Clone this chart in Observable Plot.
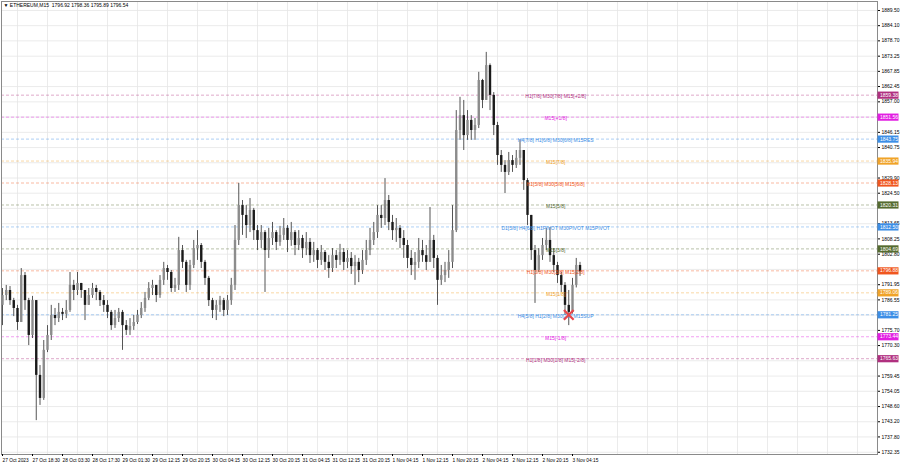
<!DOCTYPE html>
<html><head><meta charset="utf-8">
<script src="https://cdn.jsdelivr.net/npm/d3@7"></script>
<script src="https://cdn.jsdelivr.net/npm/@observablehq/plot@0.6"></script>
<style>html,body{margin:0;padding:0;background:#fff;} #chart svg{display:block}</style>
</head><body><div id="chart"></div>
<script>
const symbolTitle = "▼ ETHEREUM,M15  1796.92 1798.36 1795.89 1796.54";

// candles (bar index = position on MT4 time axis)
const open0 = 1784.6;
const close = [
1788.1,1789.9,1786.3,1783.5,1778.5,1795.2,1786.3,1773.9,1786.3,1759.7,
1751.5,1768.6,1773.9,1781.0,1779.9,1782.1,1781.4,1782.8,1791.7,1789.9,
1792.4,1789.9,1784.6,1788.1,1790.6,1789.2,1786.3,1784.6,1782.1,1777.4,
1779.9,1782.1,1777.4,1775.7,1777.1,1778.5,1781.0,1783.5,1787.1,1790.6,
1791.7,1788.1,1793.5,1797.7,1796.3,1790.6,1791.7,1804.1,1799.9,1791.7,
1798.8,1804.8,1805.9,1799.9,1794.2,1786.3,1782.8,1784.6,1786.3,1782.8,
1786.3,1791.7,1807.7,1820.1,1816.6,1813.0,1818.4,1811.2,1807.7,1810.5,
1804.1,1808.4,1810.5,1807.0,1809.5,1812.0,1807.7,1810.5,1805.9,1808.4,
1804.8,1807.0,1802.3,1804.1,1800.6,1803.4,1799.9,1797.7,1802.3,1800.6,
1803.4,1799.9,1801.3,1798.4,1799.9,1797.0,1800.6,1804.1,1807.7,1810.5,
1816.6,1815.5,1821.9,1814.1,1811.2,1812.0,1808.4,1805.9,1801.3,1798.8,
1799.9,1804.1,1802.3,1799.9,1807.7,1801.3,1793.5,1795.2,1797.0,1799.9,
1811.2,1846.8,1852.1,1845.0,1850.4,1846.8,1848.6,1864.6,1857.5,1869.9,
1859.3,1848.6,1837.9,1834.4,1831.9,1836.1,1834.4,1836.9,1839.7,1829.0,
1816.6,1804.1,1797.0,1802.3,1805.9,1807.7,1802.3,1798.8,1795.2,1791.7,
1784.6,1782.1,1791.7,1798.8,1796.54];
const high = [
1790.6,1791.7,1791.3,1787.1,1784.6,1797.7,1796.3,1787.1,1787.8,1786.3,
1763.2,1772.1,1777.4,1784.6,1783.5,1785.3,1783.5,1786.3,1796.3,1793.5,
1796.3,1792.4,1789.9,1790.6,1792.4,1791.7,1789.9,1788.1,1786.3,1782.8,
1782.8,1783.5,1782.8,1779.2,1779.9,1781.0,1782.8,1785.6,1789.2,1792.7,
1793.5,1791.7,1795.2,1799.9,1798.8,1797.0,1794.2,1808.8,1805.9,1800.6,
1800.6,1807.7,1811.2,1806.6,1800.6,1794.9,1787.1,1786.3,1787.8,1787.1,
1788.1,1794.2,1813.0,1828.0,1821.9,1820.1,1822.6,1819.1,1813.0,1813.0,
1811.2,1812.0,1814.1,1811.2,1812.7,1815.5,1813.0,1814.1,1811.2,1811.2,
1809.5,1810.5,1808.4,1807.0,1804.8,1805.9,1804.1,1802.3,1804.8,1804.1,
1806.3,1804.8,1804.1,1803.4,1802.3,1801.3,1804.1,1807.7,1812.0,1814.1,
1820.1,1820.1,1829.7,1823.7,1816.6,1815.5,1813.0,1811.2,1807.7,1804.1,
1803.4,1808.4,1807.7,1805.9,1819.4,1809.5,1802.3,1798.8,1799.9,1804.1,
1820.1,1853.9,1858.6,1857.5,1853.9,1852.1,1851.1,1867.5,1865.0,1874.6,
1870.5,1860.3,1849.7,1839.7,1836.1,1839.0,1837.9,1839.7,1843.3,1839.7,
1829.7,1816.6,1805.9,1804.8,1808.4,1812.0,1812.3,1804.8,1799.9,1796.3,
1792.7,1789.9,1794.2,1801.3,1799.9];
const low = [
1777.4,1786.3,1784.6,1780.6,1775.7,1778.5,1782.8,1770.3,1772.8,1743.6,
1749.0,1750.8,1767.8,1772.1,1777.4,1778.5,1779.2,1779.9,1782.1,1786.3,
1788.1,1787.1,1779.2,1784.6,1787.1,1786.3,1784.2,1782.1,1779.9,1775.7,
1776.4,1778.5,1768.6,1773.9,1773.9,1775.7,1777.8,1779.9,1782.1,1786.3,
1788.1,1785.6,1787.1,1791.7,1793.5,1789.2,1789.2,1789.9,1797.7,1789.2,
1789.9,1797.7,1800.6,1797.7,1791.7,1784.2,1779.9,1779.2,1782.1,1780.6,
1781.0,1784.6,1789.9,1805.9,1809.5,1808.4,1810.5,1807.7,1804.1,1804.8,
1789.2,1801.3,1805.9,1804.1,1805.6,1807.7,1803.4,1805.6,1802.3,1804.1,
1801.3,1802.3,1799.5,1799.9,1797.7,1798.8,1797.0,1794.2,1796.3,1797.7,
1798.8,1797.0,1797.7,1795.6,1791.7,1792.7,1795.6,1798.8,1802.3,1805.9,
1808.4,1812.0,1813.0,1811.2,1807.7,1807.0,1804.8,1801.3,1797.7,1795.2,
1793.5,1797.7,1799.9,1797.0,1799.9,1797.7,1784.6,1791.7,1792.7,1794.2,
1797.7,1810.5,1843.3,1839.7,1843.3,1843.3,1843.3,1847.5,1854.6,1857.5,
1853.9,1845.0,1834.4,1831.9,1824.4,1830.8,1831.9,1833.3,1834.4,1825.5,
1813.0,1800.6,1785.3,1796.3,1800.6,1804.1,1799.9,1796.3,1792.4,1789.2,
1781.0,1777.4,1781.5,1790.8,1794.9];

// Murrey levels
const levelPrices = [1859.38,1851.56,1843.75,1835.94,1828.13,1820.31,1812.50,1804.69,1796.88,1789.06,1781.25,1773.44,1765.63];
const levelLabels = ["H1[7/8] M30[7/8] M15[+2/8]","M15[+1/8]","H4[7/8] H1[6/8] M30[6/8] M15RES","M15[7/8]",
  "H1[5/8] M30[5/8] M15[6/8]","M15[5/8]","D1[5/8] H4[6/8] H1PIVOT M30PIVOT M15PIVOT","M15[3/8]",
  "H1[3/8] M30[3/8] M15[2/8]","M15[1/8]","H4[5/8] H1[2/8] M30[2/8] M15SUP","M15[-1/8]","H1[1/8] M30[1/8] M15[-2/8]"];
const levelColors = ["#b0307f","#e21ee2","#3c8ee6","#f0a328","#f0561e","#556b2f","#3c8ee6","#556b2f","#f0561e","#f0a328","#3c8ee6","#e21ee2","#b0307f"];
const labelBar = 147.5;

// marker
const markerBar = 151, markerPrice = 1781.25;

// axes
const yTicks = [1889.50,1884.10,1878.70,1873.25,1867.85,1862.45,1857.00,1846.15,1840.75,1829.90,1824.50,1813.65,1808.25,1802.80,1791.95,1786.55,1775.70,1770.30,1759.45,1754.05,1748.60,1743.20,1737.80,1732.35];
const yGridExtra = [1851.60,1835.35,1819.10,1797.40,1781.15,1764.90];
const xTickBars = [0,8,16,24,32,40,48,56,64,72,80,88,96,104,112,120,128,136,144,152];
const xTickLabels = ["27 Oct 2023","27 Oct 18:30","28 Oct 03:30","28 Oct 17:30","29 Oct 01:30","29 Oct 12:15","29 Oct 20:15","30 Oct 04:15","30 Oct 12:15","30 Oct 20:15","31 Oct 04:15","31 Oct 12:15","31 Oct 20:15","1 Nov 04:15","1 Nov 12:15","1 Nov 20:15","2 Nov 04:15","2 Nov 12:15","2 Nov 20:15","3 Nov 04:15"];

const bars = close.map((c, i) => ({i, open: i === 0 ? open0 : close[i-1], close: c, high: high[i], low: low[i]}));
const levels = levelPrices.map((p, k) => ({price: p, label: levelLabels[k], color: levelColors[k]}));
const xLabelMap = new Map(xTickBars.map((b, k) => [b, xTickLabels[k]]));
const gridX = d3.range(4, 234, 8);
const gridY = yTicks.concat(yGridExtra);
// price tag box: drawn to the right of the frame's right edge
const tagSymbol = {draw(ctx) { ctx.rect(0, -3.6, 21, 7.2); }};

const chart = Plot.plot({
  width: 900, height: 468,
  marginLeft: 1, marginRight: 23, marginTop: 1, marginBottom: 14,
  style: {fontFamily: "'Liberation Sans', Arial, sans-serif", fontSize: "5px", background: "#fff", color: "#000"},
  x: {type: "linear", domain: [-0.267, 233.33], axis: null},
  y: {domain: [1731.55, 1892.7], axis: null},
  color: {type: "identity"},
  marks: [
    Plot.ruleX(gridX, {stroke: "#e6e6e6", strokeWidth: 0.8}),
    Plot.ruleY(gridY, {stroke: "#e6e6e6", strokeWidth: 0.8}),
    Plot.ruleY(levels, {y: "price", stroke: "color", strokeDasharray: "3,2", strokeWidth: 0.7, strokeOpacity: 0.6}),
    Plot.ruleX(bars, {x: "i", y1: "low", y2: "high", stroke: "#555", strokeWidth: 1}),
    Plot.ruleX(bars, {x: "i", y1: "open", y2: "close", stroke: d => d.close >= d.open ? "#8c8c8c" : "#1a1a1a", strokeWidth: 2.4}),
    Plot.text(levels, {x: () => labelBar, y: "price", text: "label", fill: "color", dy: 1.5, fontSize: 5}),
    Plot.dot([{bar: markerBar, price: markerPrice}], {x: "bar", y: "price", symbol: "times", r: 4.5, stroke: "#e8474c", strokeWidth: 2.2}),
    Plot.frame({stroke: "#8a8a8a", strokeWidth: 1}),
    Plot.axisY(yTicks, {anchor: "right", tickSize: 2, tickPadding: 2, tickFormat: d => d.toFixed(2), fontSize: 5}),
    Plot.axisX(xTickBars, {anchor: "bottom", tickSize: 2, tickPadding: 2, tickFormat: d => xLabelMap.get(d), textAnchor: "start", fontSize: 4.8}),
    Plot.dot(levels, {y: "price", frameAnchor: "right", symbol: tagSymbol, fill: "color", stroke: "none"}),
    Plot.text(levels, {y: "price", frameAnchor: "right", textAnchor: "start", dx: 2.5, text: d => d.price.toFixed(2), fill: "#fff", fontSize: 5}),
    Plot.text([symbolTitle], {frameAnchor: "top-left", dx: 2, dy: 4, textAnchor: "start", lineAnchor: "middle", fill: "#000", fontSize: 5})
  ]
});
document.getElementById("chart").appendChild(chart);
</script>
</body></html>
